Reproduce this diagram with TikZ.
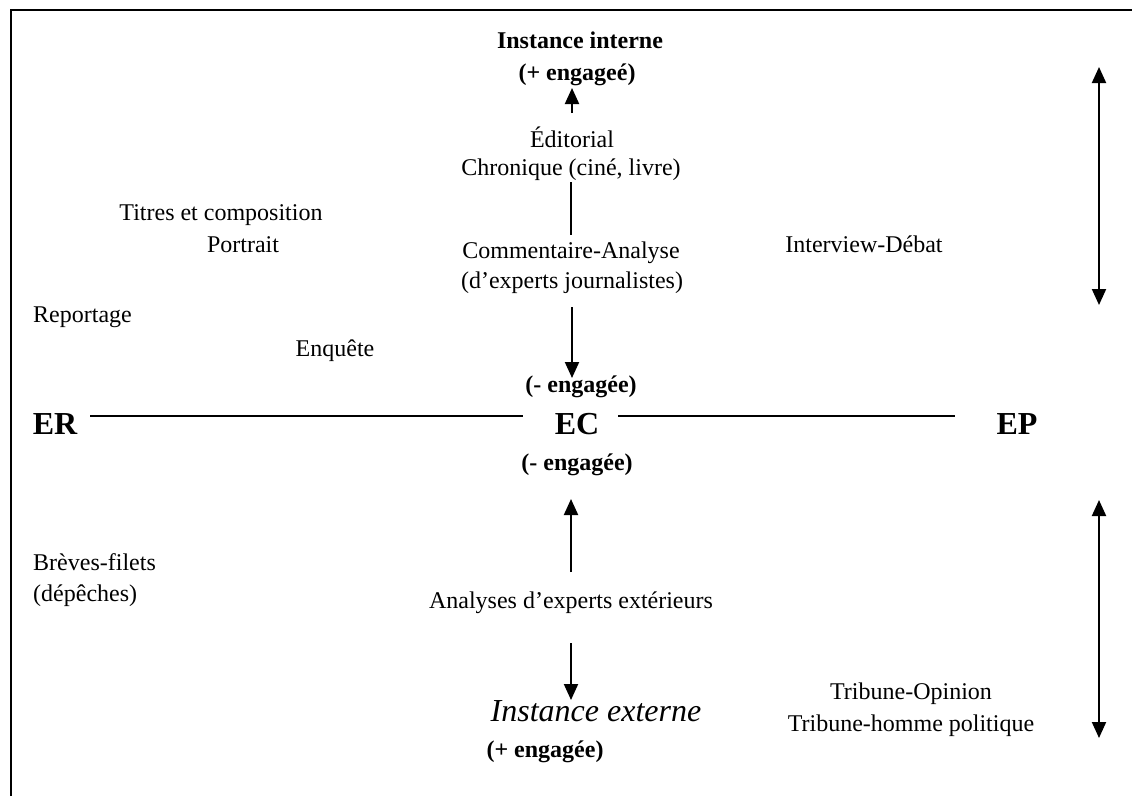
\documentclass[tikz,border=0pt]{standalone}
\usepackage{fontspec}
\setmainfont{Liberation Serif}
\usetikzlibrary{arrows.meta}
\begin{document}
\begin{tikzpicture}[x=1pt,y=-1pt,
  txt/.style={font=\fontsize{24}{28}\selectfont, inner sep=0pt, anchor=base},
  txtl/.style={txt, anchor=base west},
  btxt/.style={txt, font=\fontsize{24}{28}\selectfont\bfseries},
  itxt/.style={txt, font=\fontsize{32}{38}\selectfont\itshape},
  big/.style={txt, font=\fontsize{32}{38}\selectfont\bfseries},
  conn/.style={line width=2pt},
  arr/.style={conn, -{Triangle[width=14pt,length=16pt]}},
  darr/.style={conn, {Triangle[width=14pt,length=16pt]}-{Triangle[width=14pt,length=16pt]}},
]
\useasboundingbox (0,0) rectangle (1132,796);
\fill[white] (0,0) rectangle (1132,796);
% frame
\draw[line width=2pt] (11,796) -- (11,10) -- (1132,10);

% internal instance (top)
\node[btxt] (ii) at (580,48) {Instance interne};
\node[btxt] (iieng) at (577,80) {(+ engageé)};
\node[txt] (edito) at (572,147) {Éditorial};
\node[txt] (chron) at (571,175) {Chronique (ciné, livre)};
\node[txt] (comm) at (571,258) {Commentaire-Analyse};
\node[txt] (dexp) at (572,288) {(d’experts journalistes)};
\node[btxt] (eng1) at (581,392) {(- engagée)};

% axis
\node[big] (er) at (55,434) {ER};
\node[big] (ec) at (577,434) {EC};
\node[big] (ep) at (1017,434) {EP};
\node[btxt] (eng2) at (577,470) {(- engagée)};

% external instance (bottom)
\node[txt] (anx) at (571,608) {Analyses d’experts extérieurs};
\node[itxt] (ie) at (596,721) {Instance externe};
\node[btxt] (ieeng) at (545,757) {(+ engagée)};

% left genres
\node[txt] (titres) at (221,220) {Titres et composition};
\node[txt] (portrait) at (243,252) {Portrait};
\node[txtl] (report) at (33,322) {Reportage};
\node[txt] (enq) at (335,356) {Enquête};
\node[txtl] (breves) at (33,570) {Brèves-filets};
\node[txtl] (depe) at (33,601) {(dépêches)};

% right genres
\node[txt] (itw) at (864,252) {Interview-Débat};
\node[txt] (trib1) at (911,699) {Tribune-Opinion};
\node[txt] (trib2) at (911,731) {Tribune-homme politique};

% connector end points
\coordinate (a1s) at (572,113);
\coordinate (a1e) at (572,88);
\coordinate (l1s) at (571,182);
\coordinate (l1e) at (571,235);
\coordinate (a2s) at (572,307);
\coordinate (a2e) at (572,378);
\coordinate (erR) at (90,416);
\coordinate (ecL) at (523,416);
\coordinate (ecR) at (618,416);
\coordinate (epL) at (955,416);
\coordinate (a3s) at (571,572);
\coordinate (a3e) at (571,499);
\coordinate (a4s) at (571,643);
\coordinate (a4e) at (571,700);
\coordinate (d1t) at (1099,67);
\coordinate (d1b) at (1099,305);
\coordinate (d2t) at (1099,500);
\coordinate (d2b) at (1099,738);

\draw[arr] (a1s) -- (a1e);
\draw[conn] (l1s) -- (l1e);
\draw[arr] (a2s) -- (a2e);
\draw[conn] (erR) -- (ecL);
\draw[conn] (ecR) -- (epL);
\draw[arr] (a3s) -- (a3e);
\draw[arr] (a4s) -- (a4e);
\draw[darr] (d1t) -- (d1b);
\draw[darr] (d2t) -- (d2b);
\end{tikzpicture}
\end{document}
